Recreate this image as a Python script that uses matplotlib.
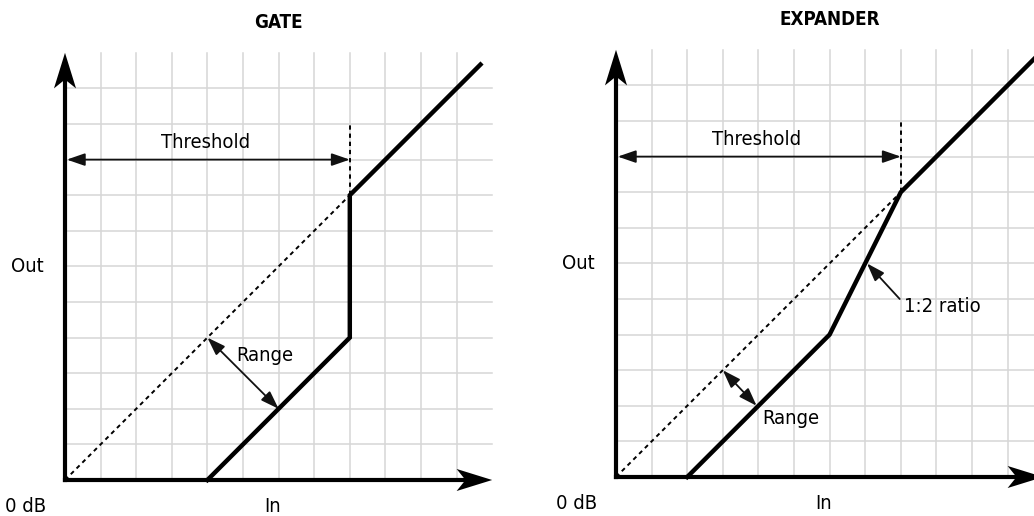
import matplotlib.pyplot as plt
from matplotlib.patches import FancyArrowPatch, Polygon

plt.rcParams['font.family'] = ['DejaVu Sans']
plt.rcParams['font.stretch'] = 'condensed'

# chart values (grid units)
grid_max = 12
threshold = 8
threshold_top = 10
threshold_arrow_y = 9

gate_in = [4, 8, 8, 11.67]
gate_out = [0, 4, 8, 11.67]
gate_range = [(4, 4), (6, 2)]

expander_in = [2, 6, 8, 11.8]
expander_out = [0, 4, 8, 11.8]
expander_range = [(3, 3), (3.95, 2.0)]
ratio_arrow = [(7.97, 5.0), (7.05, 6.0)]

unit = 35.6  # pixels per grid unit
panel_w, panel_h = 517, 516
label_size = 14.5


def axis_arrow(ax, horizontal):
    L, hw, notch = 1.0, 0.31, 0.75
    if horizontal:
        ax.plot([0, grid_max - notch], [0, 0], color='black', lw=3, solid_capstyle='projecting')
        pts = [(grid_max, 0), (grid_max - L, hw), (grid_max - notch, 0), (grid_max - L, -hw)]
    else:
        ax.plot([0, 0], [0, grid_max - notch], color='black', lw=3, solid_capstyle='projecting')
        pts = [(0, grid_max), (hw, grid_max - L), (0, grid_max - notch), (-hw, grid_max - L)]
    ax.add_patch(Polygon(pts, closed=True, color='black', lw=0))


def thin_arrow(ax, start, end, both=True):
    style = '<|-|>' if both else '-|>'
    ax.add_patch(FancyArrowPatch(start, end, arrowstyle=style + ',head_length=1.1,head_width=0.38',
                                 mutation_scale=10, color='#111111', lw=1.3,
                                 shrinkA=0, shrinkB=0))


def draw_panel(ax, title, origin_x, origin_y, curve_in, curve_out, range_pts):
    ax.set_xlim(-origin_x / unit, (panel_w - origin_x) / unit)
    ax.set_ylim(-(panel_h - origin_y) / unit, origin_y / unit)
    ax.axis('off')

    for i in range(1, grid_max):
        ax.plot([i, i], [0, grid_max], color='#d6d6d6', lw=1.1, zorder=0)
        ax.plot([0, grid_max], [i, i], color='#d6d6d6', lw=1.1, zorder=0)

    ax.plot([0, threshold], [0, threshold], color='black', lw=1.4, ls=(0, (2.2, 2.0)))
    ax.plot([threshold, threshold], [threshold, threshold_top], color='black', lw=1.4, ls=(0, (2.2, 2.0)))
    ax.plot(curve_in, curve_out, color='black', lw=3.2, solid_joinstyle='miter')

    axis_arrow(ax, True)
    axis_arrow(ax, False)

    thin_arrow(ax, (0.05, threshold_arrow_y), (threshold, threshold_arrow_y))
    thin_arrow(ax, range_pts[0], range_pts[1])

    ax.text(3.95, 9.47, 'Threshold', ha='center', va='center', fontsize=label_size)
    ax.text(6, 12.85, title, ha='center', va='center', fontsize=13.5, fontweight='bold')
    ax.text(-1.07, 6, 'Out', ha='center', va='center', fontsize=label_size)
    ax.text(-1.1, -0.75, '0 dB', ha='center', va='center', fontsize=label_size)
    ax.text(5.84, -0.75, 'In', ha='center', va='center', fontsize=label_size)


fig = plt.figure(figsize=(10.34, 5.16), dpi=100)
ax1 = fig.add_axes([0, 0, 0.5, 1])
ax2 = fig.add_axes([0.5, 0, 0.5, 1])

draw_panel(ax1, 'GATE', 65, 480, gate_in, gate_out, gate_range)
ax1.text(5.6, 3.5, 'Range', ha='center', va='center', fontsize=label_size)

draw_panel(ax2, 'EXPANDER', 99, 477, expander_in, expander_out, expander_range)
ax2.text(4.1, 1.65, 'Range', ha='left', va='center', fontsize=label_size)
thin_arrow(ax2, ratio_arrow[0], ratio_arrow[1], both=False)
ax2.text(8.1, 4.8, '1:2 ratio', ha='left', va='center', fontsize=label_size)

fig.savefig('out.png', dpi=100)
